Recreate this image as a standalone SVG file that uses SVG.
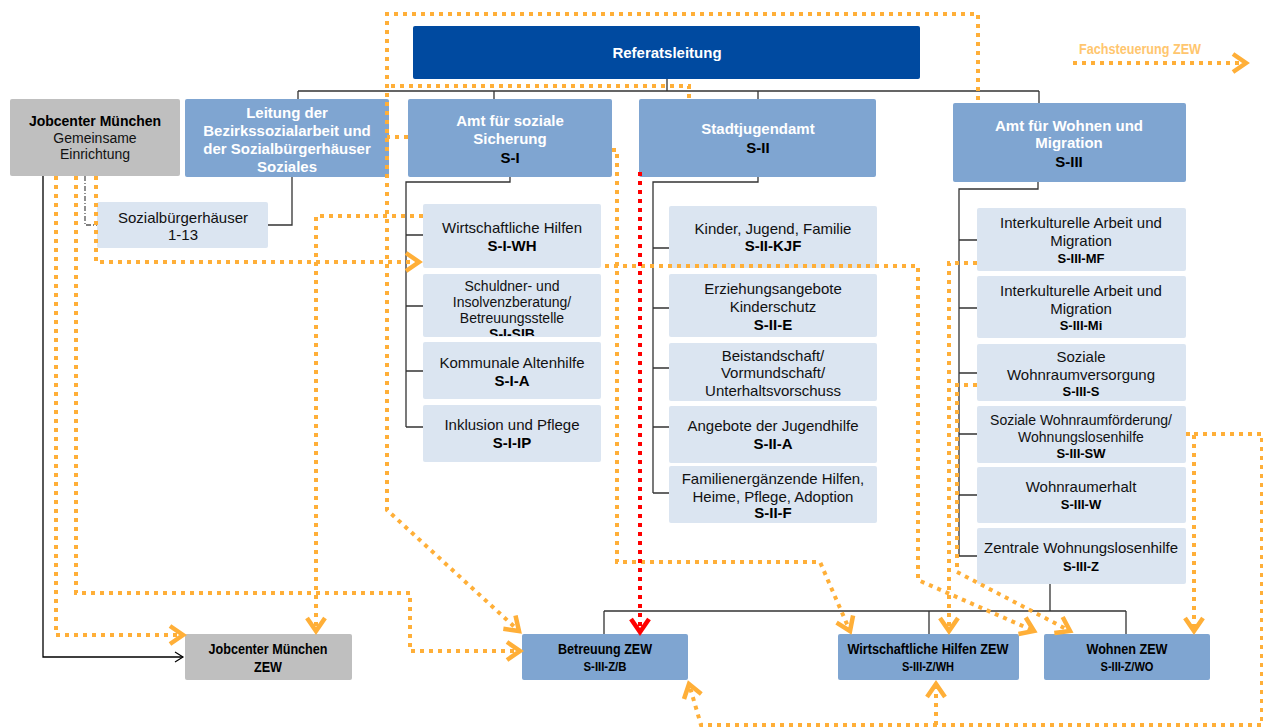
<svg xmlns="http://www.w3.org/2000/svg" width="1263" height="727" viewBox="0 0 1263 727">
  <style>
    text { font-family: "Liberation Sans", Arial, sans-serif; text-anchor: middle; }
    .head { fill: #7FA5D1; }
    .sub { fill: #DBE5F1; }
    .grey { fill: #BFBFBF; }
    .top { fill: #004AA0; }
    .wt { fill: #FFFFFF; font-weight: bold; font-size: 15px; }
    .t15 { fill: #111; font-size: 15px; }
    .t14 { fill: #111; font-size: 14px; }
    .b15 { fill: #000; font-weight: bold; font-size: 15px; }
    .b14 { fill: #000; font-weight: bold; font-size: 14px; }
    .b13 { fill: #000; font-weight: bold; font-size: 13px; }
    .zt { fill: #000; font-weight: bold; font-size: 14px; }
    .zc { fill: #000; font-weight: bold; font-size: 12px; }
    .tree { fill: none; stroke: #333; stroke-width: 1.3; }
    .fs { fill: none; stroke: #FFAF38; stroke-width: 4; stroke-dasharray: 4 5; }
    .red { fill: none; stroke: #FF0000; stroke-width: 4; stroke-dasharray: 4 5; }
  </style>
  <defs>
    <marker id="arrOrange" markerUnits="userSpaceOnUse" viewBox="-16 -13 20 26" markerWidth="20" markerHeight="26" refX="0" refY="0" orient="auto">
      <path d="M-13,-9 L0,0 L-13,9" fill="none" stroke="#FFAF38" stroke-width="4.5"/>
    </marker>
    <marker id="arrRed" markerUnits="userSpaceOnUse" viewBox="-16 -13 20 26" markerWidth="20" markerHeight="26" refX="0" refY="0" orient="auto">
      <path d="M-13,-9 L0,0 L-13,9" fill="none" stroke="#FF0000" stroke-width="4.5"/>
    </marker>
    <marker id="arrBlack" markerUnits="userSpaceOnUse" viewBox="-10 -6 12 12" markerWidth="12" markerHeight="12" refX="0" refY="0" orient="auto">
      <path d="M-8,-5 L0,0 L-8,5" fill="none" stroke="#000" stroke-width="1.2"/>
    </marker>
    <clipPath id="clipSIB"><rect x="423" y="274" width="178" height="62"/></clipPath>
  </defs>
  <rect width="1263" height="727" fill="#FFFFFF"/>

  <!-- organisational tree lines -->
  <g id="tree-lines" class="tree">
    <path d="M667,79 V91 M298,91 H1039 M298,91 V99 M494,91 V99 M758,91 V99 M1039,91 V103"/>
    <path d="M292,177 V225 H268"/>
    <path d="M85,176 V225 H97" stroke="#555" stroke-dasharray="5 2 1 2"/>
    <path d="M510,177 V182 H406 V427 M406,235 H423 M406,306 H423 M406,371 H423 M406,427 H423"/>
    <path d="M758,177 V182 H653 V493 M653,248 H669 M653,308 H669 M653,368 H669 M653,427 H669 M653,493 H669"/>
    <path d="M1038,182 V189 H959 V556 M959,240 H977 M959,308 H977 M959,373 H977 M959,434 H977 M959,495 H977 M959,556 H977"/>
    <path d="M1050,584 V611 M604,611 H1126 M604,611 V634 M929,611 V634 M1126,611 V634"/>
    <path d="M43,176 V657 H183" stroke="#000" marker-end="url(#arrBlack)"/>
  </g>

  <!-- top management -->
  <g id="referatsleitung">
    <rect class="top" x="413" y="26" width="507" height="53" rx="2"/>
    <text class="wt" x="667" y="58">Referatsleitung</text>
  </g>

  <g id="jobcenter">
    <rect class="grey" x="10" y="99" width="170" height="77" rx="2"/>
    <text class="b14" x="95" y="126">Jobcenter München</text>
    <text class="t14" x="95" y="143">Gemeinsame</text>
    <text class="t14" x="95" y="159">Einrichtung</text>
  </g>

  <g id="leitung-bsa">
    <rect class="head" x="185" y="99" width="204" height="78" rx="2"/>
    <text class="wt" x="287" y="118">Leitung der</text>
    <text class="wt" x="287" y="136">Bezirkssozialarbeit und</text>
    <text class="wt" x="287" y="154">der Sozialbürgerhäuser</text>
    <text class="wt" x="287" y="172">Soziales</text>
  </g>

  <g id="sbh">
    <rect class="sub" x="97" y="202" width="171" height="46" rx="2"/>
    <text class="t15" x="183" y="223">Sozialbürgerhäuser</text>
    <text class="t15" x="183" y="240">1-13</text>
  </g>

  <g id="s-i">
    <rect class="head" x="408" y="99" width="204" height="78" rx="2"/>
    <text class="wt" x="510" y="126">Amt für soziale</text>
    <text class="wt" x="510" y="144">Sicherung</text>
    <text class="b15" x="510" y="163">S-I</text>
  </g>

  <g id="s-ii">
    <rect class="head" x="639" y="99" width="237" height="78" rx="2"/>
    <text class="wt" x="758" y="134">Stadtjugendamt</text>
    <text class="b15" x="758" y="153">S-II</text>
  </g>

  <g id="s-iii">
    <rect class="head" x="953" y="103" width="233" height="79" rx="2"/>
    <text class="wt" x="1069" y="131">Amt für Wohnen und</text>
    <text class="wt" x="1069" y="148">Migration</text>
    <text class="b15" x="1069" y="167">S-III</text>
  </g>

  <!-- S-I departments -->
  <g id="s-i-wh">
    <rect class="sub" x="423" y="204" width="178" height="64" rx="2"/>
    <text class="t15" x="512" y="233">Wirtschaftliche Hilfen</text>
    <text class="b15" x="512" y="251">S-I-WH</text>
  </g>
  <g id="s-i-sib">
    <rect class="sub" x="423" y="274" width="178" height="63" rx="2"/>
    <g clip-path="url(#clipSIB)">
      <text class="t14" x="512" y="291">Schuldner- und</text>
      <text class="t14" x="512" y="307">Insolvenzberatung/</text>
      <text class="t14" x="512" y="323">Betreuungsstelle</text>
      <text class="b14" x="512" y="339">S-I-SIB</text>
    </g>
  </g>
  <g id="s-i-a">
    <rect class="sub" x="423" y="342" width="178" height="57" rx="2"/>
    <text class="t15" x="512" y="368">Kommunale Altenhilfe</text>
    <text class="b15" x="512" y="386">S-I-A</text>
  </g>
  <g id="s-i-ip">
    <rect class="sub" x="423" y="405" width="178" height="57" rx="2"/>
    <text class="t15" x="512" y="430">Inklusion und Pflege</text>
    <text class="b15" x="512" y="448">S-I-IP</text>
  </g>

  <!-- S-II departments -->
  <g id="s-ii-kjf">
    <rect class="sub" x="669" y="206" width="208" height="62" rx="2"/>
    <text class="t15" x="773" y="234">Kinder, Jugend, Familie</text>
    <text class="b15" x="773" y="251">S-II-KJF</text>
  </g>
  <g id="s-ii-e">
    <rect class="sub" x="669" y="274" width="208" height="63" rx="2"/>
    <text class="t15" x="773" y="294">Erziehungsangebote</text>
    <text class="t15" x="773" y="312">Kinderschutz</text>
    <text class="b15" x="773" y="330">S-II-E</text>
  </g>
  <g id="s-ii-bv">
    <rect class="sub" x="669" y="343" width="208" height="58" rx="2"/>
    <text class="t15" x="773" y="361">Beistandschaft/</text>
    <text class="t15" x="773" y="378">Vormundschaft/</text>
    <text class="t15" x="773" y="396">Unterhaltsvorschuss</text>
  </g>
  <g id="s-ii-a">
    <rect class="sub" x="669" y="406" width="208" height="57" rx="2"/>
    <text class="t15" x="773" y="431">Angebote der Jugendhilfe</text>
    <text class="b15" x="773" y="449">S-II-A</text>
  </g>
  <g id="s-ii-f">
    <rect class="sub" x="669" y="466" width="208" height="57" rx="2"/>
    <text class="t15" x="773" y="484">Familienergänzende Hilfen,</text>
    <text class="t15" x="773" y="502">Heime, Pflege, Adoption</text>
    <text class="b15" x="773" y="518">S-II-F</text>
  </g>

  <!-- S-III departments -->
  <g id="s-iii-mf">
    <rect class="sub" x="977" y="208" width="209" height="63" rx="2"/>
    <text class="t15" x="1081" y="228">Interkulturelle Arbeit und</text>
    <text class="t15" x="1081" y="246">Migration</text>
    <text class="b13" x="1081" y="263">S-III-MF</text>
  </g>
  <g id="s-iii-mi">
    <rect class="sub" x="977" y="276" width="209" height="62" rx="2"/>
    <text class="t15" x="1081" y="296">Interkulturelle Arbeit und</text>
    <text class="t15" x="1081" y="314">Migration</text>
    <text class="b13" x="1081" y="330">S-III-Mi</text>
  </g>
  <g id="s-iii-s">
    <rect class="sub" x="977" y="344" width="209" height="57" rx="2"/>
    <text class="t15" x="1081" y="362">Soziale</text>
    <text class="t15" x="1081" y="380">Wohnraumversorgung</text>
    <text class="b13" x="1081" y="396">S-III-S</text>
  </g>
  <g id="s-iii-sw">
    <rect class="sub" x="977" y="406" width="209" height="57" rx="2"/>
    <text class="t14" x="1081" y="425">Soziale Wohnraumförderung/</text>
    <text class="t14" x="1081" y="442">Wohnungslosenhilfe</text>
    <text class="b13" x="1081" y="458">S-III-SW</text>
  </g>
  <g id="s-iii-w">
    <rect class="sub" x="977" y="467" width="209" height="56" rx="2"/>
    <text class="t15" x="1081" y="492">Wohnraumerhalt</text>
    <text class="b13" x="1081" y="509">S-III-W</text>
  </g>
  <g id="s-iii-z">
    <rect class="sub" x="977" y="528" width="209" height="56" rx="2"/>
    <text class="t15" x="1081" y="553">Zentrale Wohnungslosenhilfe</text>
    <text class="b13" x="1081" y="571">S-III-Z</text>
  </g>

  <!-- ZEW units -->
  <g id="jobcenter-zew">
    <rect class="grey" x="185" y="634" width="167" height="46" rx="2"/>
    <text class="zt" x="268" y="654" textLength="119" lengthAdjust="spacingAndGlyphs">Jobcenter München</text>
    <text class="zt" x="268" y="672" textLength="28" lengthAdjust="spacingAndGlyphs">ZEW</text>
  </g>
  <g id="zew-betreuung">
    <rect class="head" x="522" y="634" width="166" height="46" rx="2"/>
    <text class="zt" x="605" y="654" textLength="94" lengthAdjust="spacingAndGlyphs">Betreuung ZEW</text>
    <text class="zc" x="605" y="671" textLength="43" lengthAdjust="spacingAndGlyphs">S-III-Z/B</text>
  </g>
  <g id="zew-wh">
    <rect class="head" x="838" y="634" width="181" height="46" rx="2"/>
    <text class="zt" x="928" y="654" textLength="161" lengthAdjust="spacingAndGlyphs">Wirtschaftliche Hilfen ZEW</text>
    <text class="zc" x="928" y="671" textLength="52" lengthAdjust="spacingAndGlyphs">S-III-Z/WH</text>
  </g>
  <g id="zew-wohnen">
    <rect class="head" x="1044" y="634" width="166" height="46" rx="2"/>
    <text class="zt" x="1127" y="654" textLength="81" lengthAdjust="spacingAndGlyphs">Wohnen ZEW</text>
    <text class="zc" x="1127" y="671" textLength="53" lengthAdjust="spacingAndGlyphs">S-III-Z/WO</text>
  </g>

  <!-- legend -->
  <g id="legend">
    <text x="1140" y="54" font-size="14" font-weight="bold" fill="#FFC66E" textLength="122" lengthAdjust="spacingAndGlyphs">Fachsteuerung ZEW</text>
    <path class="fs" d="M1073,63 H1246" marker-end="url(#arrOrange)"/>
  </g>

  <!-- Fachsteuerung connectors -->
  <g id="connectors">
    <path class="fs" d="M978,100 V14 H387 V510 L519,631" marker-end="url(#arrOrange)"/>
    <path class="fs" d="M689,98 V86 H387"/>
    <path class="fs" d="M408,137 H387"/>
    <path class="fs" d="M612,150 H617 V562 H820 L850,631" marker-end="url(#arrOrange)"/>
    <path class="fs" d="M605,266 H918 V580 L1034,631" marker-end="url(#arrOrange)"/>
    <path class="fs" d="M977,263 H949 V631" marker-end="url(#arrOrange)"/>
    <path class="fs" d="M977,385 H957 V572 L1070,631" marker-end="url(#arrOrange)"/>
    <path class="fs" d="M1186,434 H1194 V631" marker-end="url(#arrOrange)"/>
    <path class="fs" d="M1194,434 H1262 V725 H701 L689,684" marker-end="url(#arrOrange)"/>
    <path class="fs" d="M936,725 V684" marker-end="url(#arrOrange)"/>
    <path class="fs" d="M56,176 V635 H183" marker-end="url(#arrOrange)"/>
    <path class="fs" d="M76,176 V593 H410 V651 H520" marker-end="url(#arrOrange)"/>
    <path class="fs" d="M96,176 V262 H419" marker-end="url(#arrOrange)"/>
    <path class="fs" d="M423,216 H316 V631" marker-end="url(#arrOrange)"/>
    <path class="red" d="M640,172 V632" marker-end="url(#arrRed)"/>
  </g>
</svg>
